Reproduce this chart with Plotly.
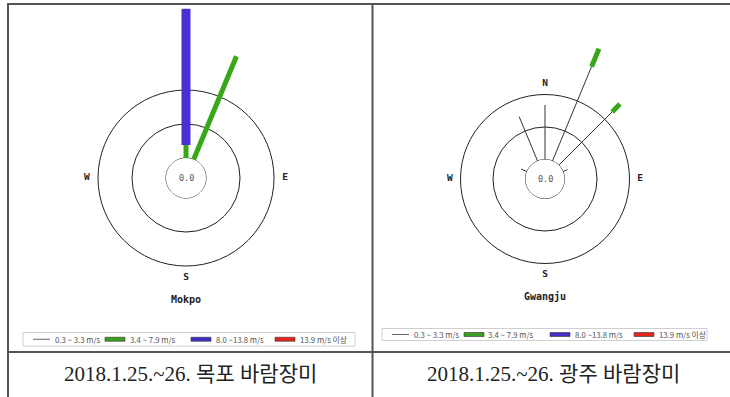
import plotly.graph_objects as go

W, H = 730, 397

# 16 compass directions, clockwise from north
DIRECTIONS = ["N", "NNE", "NE", "ENE", "E", "ESE", "SE", "SSE",
              "S", "SSW", "SW", "WSW", "W", "WNW", "NW", "NNW"]
ANGLES = [i * 22.5 for i in range(16)]

# wind-speed classes
CLASS_LABELS = ["0.3 ~ 3.3 m/s", "3.4 ~ 7.9 m/s", "8.0 ~13.8 m/s", "13.9 m/s 이상"]
CLASS_COLORS = ["#333333", "#38a818", "#4a30d2", "#e42a1c"]
LEGEND_FILL = ["#666666", "#3a9e1e", "#3f2fc4", "#e4261c"]
CLASS_WIDTHS = [1, 5, 9, 9]

STATIONS = ["Mokpo", "Gwangju"]
CAPTIONS = ["2018.1.25.~26. 목포 바람장미", "2018.1.25.~26. 광주 바람장미"]
CALM = ["0.0", "0.0"]

# frequency (%) by class, per direction (N, NNE, ... NNW)
MOKPO_C1 = [0, 0, 0, 0, 0, 0, 0, 0, 0, 0, 0, 0, 0, 0, 0, 0]
MOKPO_C2 = [3.8, 32.9, 0, 0, 0, 0, 0, 0, 0, 0, 0, 0, 0, 0, 0, 0]
MOKPO_C3 = [63.3, 0, 0, 0, 0, 0, 0, 0, 0, 0, 0, 0, 0, 0, 0, 0]
MOKPO_C4 = [0, 0, 0, 0, 0, 0, 0, 0, 0, 0, 0, 0, 0, 0, 0, 0]

GWANGJU_C1 = [16.8, 31.4, 23.2, 1.5, 0, 0, 0, 0, 0, 0, 0, 0, 0, 1.9, 0, 14.8]
GWANGJU_C2 = [0, 6.0, 3.4, 0, 0, 0, 0, 0, 0, 0, 0, 0, 0, 0, 0, 0]
GWANGJU_C3 = [0, 0, 0, 0, 0, 0, 0, 0, 0, 0, 0, 0, 0, 0, 0, 0]
GWANGJU_C4 = [0, 0, 0, 0, 0, 0, 0, 0, 0, 0, 0, 0, 0, 0, 0, 0]

RINGS = [10, 20]
COMPASS = ["N", "E", "S", "W"]
COMPASS_ANGLES = [0, 90, 180, 270]
RING_THETA = list(range(0, 361, 2))


def px(x):
    return x / W


def py(y):
    return (H - y) / H


# panel geometry: centre (px), outer radius (px), hole radius (px), px per %
PANELS = [
    dict(cx=186, cy=178, R=169.5, hole=20, k=3.4, label_r=23.3,
         station_y=299, cap_x=190, legend=(23, 332.5, 355, 346)),
    dict(cx=545, cy=179, R=150, hole=19.5, k=3.25, label_r=23.3,
         station_y=296, cap_x=553, legend=(382, 328.5, 707, 340.5)),
]
DATA = [
    [MOKPO_C1, MOKPO_C2, MOKPO_C3, MOKPO_C4],
    [GWANGJU_C1, GWANGJU_C2, GWANGJU_C3, GWANGJU_C4],
]

fig = go.Figure()
layout_polars = {}
annotations = []
shapes = []


def note(x, y, text, font, xanchor="center"):
    annotations.append(dict(x=px(x), y=py(y), xref="paper", yref="paper",
                            xanchor=xanchor, yanchor="middle", text=text,
                            showarrow=False, font=font))


for i, (p, classes) in enumerate(zip(PANELS, DATA)):
    name = "polar" if i == 0 else "polar2"
    rmax = (p["R"] - p["hole"]) / p["k"]
    layout_polars[name] = dict(
        domain=dict(x=[px(p["cx"] - p["R"]), px(p["cx"] + p["R"])],
                    y=[py(p["cy"] + p["R"]), py(p["cy"] - p["R"])]),
        hole=p["hole"] / p["R"],
        bgcolor="rgba(0,0,0,0)",
        radialaxis=dict(range=[0, rmax], tickvals=RINGS, showgrid=True,
                        gridcolor="#222222", gridwidth=1, showline=False,
                        showticklabels=False, ticks=""),
        angularaxis=dict(rotation=90, direction="clockwise", showgrid=False,
                         showline=False, showticklabels=False, ticks=""),
    )

    # inner calm circle
    fig.add_trace(go.Scatterpolar(
        r=[0] * len(RING_THETA), theta=RING_THETA, mode="lines",
        line=dict(color="#222222", width=1), subplot=name,
        showlegend=False, hoverinfo="skip"))

    # compass letters (drawn first so bars sit on top of them)
    fig.add_trace(go.Scatterpolar(
        r=[p["label_r"]] * 4, theta=COMPASS_ANGLES, mode="text",
        text=[f"<b>{c}</b>" for c in COMPASS],
        textfont=dict(family="DejaVu Sans Mono", size=9.5, color="#222222"),
        subplot=name, showlegend=False, hoverinfo="skip"))

    # stacked speed-class segments per direction
    base = [0.0] * 16
    for c, vals in enumerate(classes):
        rr, tt = [], []
        for d, v in enumerate(vals):
            if v > 0:
                rr += [base[d], base[d] + v, None]
                tt += [ANGLES[d], ANGLES[d], None]
                base[d] += v
        if rr:
            fig.add_trace(go.Scatterpolar(
                r=rr, theta=tt, mode="lines",
                line=dict(color=CLASS_COLORS[c], width=CLASS_WIDTHS[c]),
                connectgaps=False, subplot=name, showlegend=False,
                name=CLASS_LABELS[c]))

    note(p["cx"], p["cy"], CALM[i],
         dict(family="DejaVu Sans Mono", size=8.5, color="#555555"))
    note(p["cx"], p["station_y"], f"<b>{STATIONS[i]}</b>",
         dict(family="DejaVu Sans Mono", size=10, color="#222222"))
    note(p["cap_x"], 374, CAPTIONS[i],
         dict(family="Liberation Serif, Noto Sans CJK KR", size=21, color="#222222"))

    # legend box
    x0, y0, x1, y1 = p["legend"]
    shapes.append(dict(type="rect", xref="paper", yref="paper",
                       x0=px(x0), x1=px(x1), y0=py(y1), y1=py(y0),
                       line=dict(color="#cfcfcf", width=1), fillcolor="white"))
    ym = (y0 + y1) / 2
    offsets = [(10, 27, 29.5), (82, 102, 104.5), (168, 188, 190.5), (252, 272, 275)]
    for c, (g0, g1, tx) in enumerate(offsets):
        if c == 0:
            shapes.append(dict(type="line", xref="paper", yref="paper",
                               x0=px(x0 + g0), x1=px(x0 + g1), y0=py(ym), y1=py(ym),
                               line=dict(color=LEGEND_FILL[c], width=1)))
        else:
            shapes.append(dict(type="rect", xref="paper", yref="paper",
                               x0=px(x0 + g0), x1=px(x0 + g1),
                               y0=py(ym + 2), y1=py(ym - 2),
                               line=dict(color="#333333", width=0.6),
                               fillcolor=LEGEND_FILL[c]))
        note(x0 + tx, ym, CLASS_LABELS[c],
             dict(family="Noto Sans CJK KR", size=7.8, color="#555555"), xanchor="left")

# table frame
FRAME = "#555555"
for (x0, y0, x1, y1) in [(7, 4, 730, 4), (8, 3, 8, 397), (372.5, 3, 372.5, 397),
                         (8, 352, 730, 352)]:
    shapes.append(dict(type="line", xref="paper", yref="paper",
                       x0=px(x0), x1=px(x1), y0=py(y0), y1=py(y1),
                       line=dict(color=FRAME, width=2)))

fig.update_layout(
    width=W, height=H,
    margin=dict(l=0, r=0, t=0, b=0),
    paper_bgcolor="white",
    plot_bgcolor="white",
    showlegend=False,
    annotations=annotations,
    shapes=shapes,
    **layout_polars,
)

fig.write_html("out.html")
